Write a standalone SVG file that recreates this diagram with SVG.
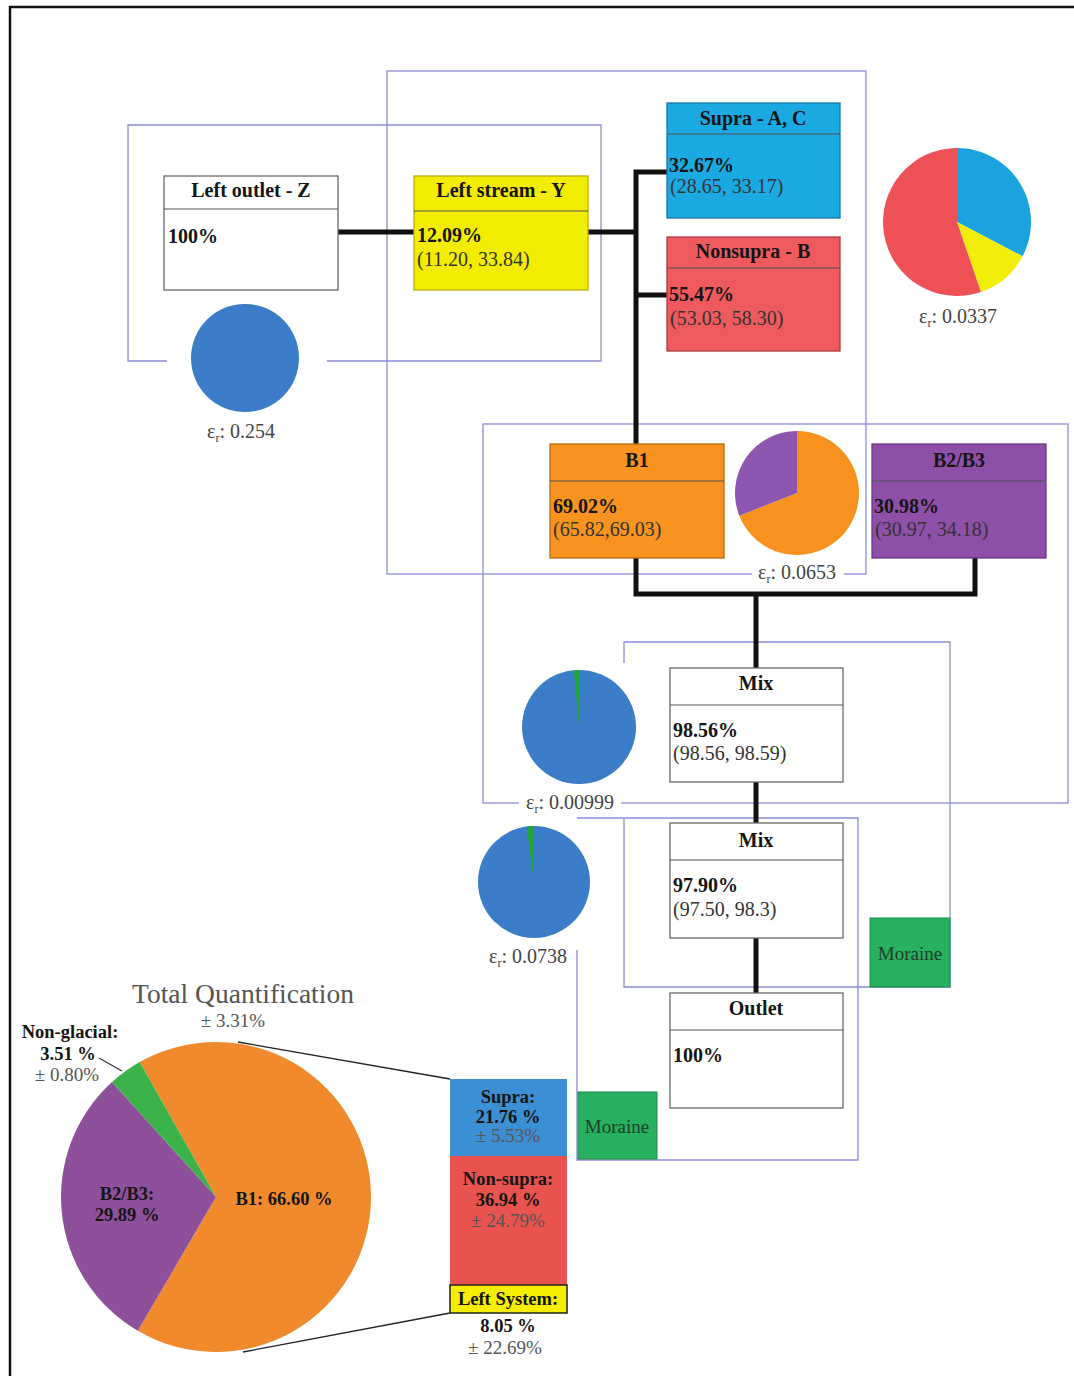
<svg xmlns="http://www.w3.org/2000/svg" width="1074" height="1376" viewBox="0 0 1074 1376">
<style>
.frame{fill:none;stroke:#8c8cd9;stroke-width:1.3}
.conn{stroke:#111;stroke-width:5;fill:none}
.box{stroke:#6a6a6a;stroke-width:1.3}
.div{stroke:#555;stroke-width:1.2}
.t{font-family:"Liberation Serif",serif;font-size:20px;fill:#151515}
.title{font-weight:bold;text-anchor:middle}
.val{font-weight:bold}
.rng{fill:#333}
.eps{font-family:"Liberation Serif",serif;font-size:20px;fill:#444;text-anchor:middle}
.lbl{font-family:"Liberation Serif",serif;font-size:18.5px;font-weight:bold;fill:#151515;text-anchor:middle}
.pm{font-family:"Liberation Serif",serif;font-size:19px;fill:#555;text-anchor:middle}
.mor{font-family:"Liberation Serif",serif;font-size:19px;fill:#1e3d2a;text-anchor:middle}
</style>
<rect width="1074" height="1376" fill="#fff"/>
<path d="M10,1376 V7 H1074" fill="none" stroke="#111" stroke-width="2.5"/>

<g id="frames">
  <path class="frame" d="M167,361 H128 V125 H601 V361 H327"/>
  <rect class="frame" x="387" y="71" width="479" height="503"/>
  <rect class="frame" x="483" y="424" width="585" height="379"/>
  <path class="frame" d="M624,663 V642 H950 V987 H624 V819"/>
  <path class="frame" d="M577,950 V1160 H858 V818 H577"/>
</g>

<g id="connectors">
  <line class="conn" x1="338" y1="232" x2="414" y2="232"/>
  <line class="conn" x1="588" y1="232" x2="636" y2="232"/>
  <path class="conn" d="M667,172 H636 V444"/>
  <line class="conn" x1="636" y1="295" x2="667" y2="295"/>
  <path class="conn" d="M636,558 V594 H975 V558"/>
  <line class="conn" x1="756" y1="594" x2="756" y2="668"/>
  <line class="conn" x1="756" y1="782" x2="756" y2="823"/>
  <line class="conn" x1="756" y1="938" x2="756" y2="993"/>
</g>

<g id="node-left-outlet">
  <rect class="box" x="164" y="176" width="174" height="114" fill="#fff"/>
  <line class="div" x1="164" y1="209" x2="338" y2="209"/>
  <text class="t title" x="251" y="197">Left outlet - Z</text>
  <text class="t val" x="168" y="243">100%</text>
</g>
<g id="node-left-stream">
  <rect x="414" y="176" width="174" height="114" fill="#f2ec00" stroke="#b8b000" stroke-width="1.3"/>
  <line class="div" x1="414" y1="211" x2="588" y2="211"/>
  <text class="t title" x="501" y="197">Left stream - Y</text>
  <text class="t val" x="417" y="242">12.09%</text>
  <text class="t rng" x="417" y="266">(11.20, 33.84)</text>
</g>
<g id="node-supra">
  <rect x="667" y="103" width="173" height="115" fill="#1ba9e1" stroke="#1478a8" stroke-width="1.3"/>
  <line class="div" x1="667" y1="134" x2="840" y2="134" stroke="#124a6a"/>
  <text class="t title" x="753" y="125">Supra - A, C</text>
  <text class="t val" x="669" y="172">32.67%</text>
  <text class="t rng" x="670" y="193">(28.65, 33.17)</text>
</g>
<g id="node-nonsupra">
  <rect x="667" y="237" width="173" height="114" fill="#ef5a5e" stroke="#a83a3e" stroke-width="1.3"/>
  <line class="div" x1="667" y1="268" x2="840" y2="268" stroke="#7a2a2a"/>
  <text class="t title" x="753" y="258">Nonsupra - B</text>
  <text class="t val" x="669" y="301">55.47%</text>
  <text class="t rng" x="670" y="325">(53.03, 58.30)</text>
</g>
<g id="node-b1">
  <rect x="550" y="444" width="174" height="114" fill="#f7931e" stroke="#b86a10" stroke-width="1.3"/>
  <line class="div" x1="550" y1="481" x2="724" y2="481" stroke="#6a3a08"/>
  <text class="t title" x="637" y="467">B1</text>
  <text class="t val" x="553" y="513">69.02%</text>
  <text class="t rng" x="553" y="536">(65.82,69.03)</text>
</g>
<g id="node-b2b3">
  <rect x="872" y="444" width="174" height="114" fill="#8e4fa8" stroke="#6a3a80" stroke-width="1.3"/>
  <line class="div" x1="872" y1="481" x2="1046" y2="481" stroke="#7a4592"/>
  <text class="t title" x="959" y="467">B2/B3</text>
  <text class="t val" x="874" y="513">30.98%</text>
  <text class="t rng" x="875" y="536">(30.97, 34.18)</text>
</g>
<g id="node-mix1">
  <rect class="box" x="670" y="668" width="173" height="114" fill="#fff"/>
  <line class="div" x1="670" y1="705" x2="843" y2="705"/>
  <text class="t title" x="756" y="690">Mix</text>
  <text class="t val" x="673" y="737">98.56%</text>
  <text class="t rng" x="673" y="760">(98.56, 98.59)</text>
</g>
<g id="node-mix2">
  <rect class="box" x="670" y="823" width="173" height="115" fill="#fff"/>
  <line class="div" x1="670" y1="860" x2="843" y2="860"/>
  <text class="t title" x="756" y="847">Mix</text>
  <text class="t val" x="673" y="892">97.90%</text>
  <text class="t rng" x="673" y="916">(97.50, 98.3)</text>
</g>
<g id="node-outlet">
  <rect class="box" x="670" y="993" width="173" height="115" fill="#fff"/>
  <line class="div" x1="670" y1="1030" x2="843" y2="1030"/>
  <text class="t title" x="756" y="1015">Outlet</text>
  <text class="t val" x="673" y="1062">100%</text>
</g>
<g id="node-moraine-1">
  <rect x="870" y="918" width="80" height="69" fill="#27b05f" stroke="#1d8a48" stroke-width="1"/>
  <text class="mor" x="910" y="960">Moraine</text>
</g>
<g id="node-moraine-2">
  <rect x="578" y="1092" width="79" height="67" fill="#27b05f" stroke="#1d8a48" stroke-width="1"/>
  <text class="mor" x="617" y="1133">Moraine</text>
</g>

<g id="pie-left-outlet">
  <circle cx="245" cy="358" r="54" fill="#3b7dc8"/>
  <text class="eps" x="241" y="438">ε<tspan font-size="12" dy="4">r</tspan><tspan dy="-4">: 0.254</tspan></text>
</g>
<g id="pie-top">
  <path d="M957,222 L957,148 A74,74 0 0 1 1022.58,256.28 Z" fill="#1aa3df"/>
  <path d="M957,222 L1022.58,256.28 A74,74 0 0 1 980.97,292.01 Z" fill="#f2ee0a"/>
  <path d="M957,222 L980.97,292.01 A74,74 0 1 1 957,148 Z" fill="#ee5257"/>
  <text class="eps" x="958" y="323">ε<tspan font-size="12" dy="4">r</tspan><tspan dy="-4">: 0.0337</tspan></text>
</g>
<g id="pie-b">
  <path d="M797,493 L797,431 A62,62 0 1 1 739.33,515.75 Z" fill="#f7921e"/>
  <path d="M797,493 L739.33,515.75 A62,62 0 0 1 797,431 Z" fill="#8d56b0"/>
  <rect x="752" y="562" width="92" height="22" fill="#fff"/>
  <text class="eps" x="797" y="579">ε<tspan font-size="12" dy="4">r</tspan><tspan dy="-4">: 0.0653</tspan></text>
</g>
<g id="pie-mix1">
  <circle cx="579" cy="727" r="57" fill="#3b7dc8"/>
  <path d="M579,727 L573.83,670.23 A57,57 0 0 1 579,670 Z" fill="#1fa53a"/>
  <rect x="519" y="792" width="102" height="22" fill="#fff"/>
  <text class="eps" x="570" y="809">ε<tspan font-size="12" dy="4">r</tspan><tspan dy="-4">: 0.00999</tspan></text>
</g>
<g id="pie-mix2">
  <circle cx="534" cy="882" r="56" fill="#3b7dc8"/>
  <path d="M534,882 L526.63,826.49 A56,56 0 0 1 534,826 Z" fill="#1fa53a"/>
  <text class="eps" x="528" y="963">ε<tspan font-size="12" dy="4">r</tspan><tspan dy="-4">: 0.0738</tspan></text>
</g>

<g id="total-quantification">
  <text x="243" y="1003" font-family="Liberation Serif, serif" font-size="27.5" fill="#555" text-anchor="middle">Total Quantification</text>
  <text class="pm" x="233" y="1027">± 3.31%</text>
  <path d="M216,1197 L139.68,1062.09 A155,155 0 1 1 137.88,1330.87 Z" fill="#f08a2c"/>
  <path d="M216,1197 L137.88,1330.87 A155,155 0 0 1 112.0,1082.07 Z" fill="#8f509b"/>
  <path d="M216,1197 L112.0,1082.07 A155,155 0 0 1 139.68,1062.09 Z" fill="#3bb24a"/>
  <line x1="99" y1="1058" x2="122" y2="1071" stroke="#333" stroke-width="1.2"/>
  <text class="lbl" x="70" y="1038">Non-glacial:</text>
  <text class="lbl" x="68" y="1060">3.51 %</text>
  <text class="pm" x="67" y="1081">± 0.80%</text>
  <text class="lbl" x="127" y="1200" fill="#2a1a3a">B2/B3:</text>
  <text class="lbl" x="127" y="1221" fill="#2a1a3a">29.89 %</text>
  <text class="lbl" x="284" y="1205">B1: 66.60 %</text>
  <line x1="238" y1="1042" x2="450" y2="1079" stroke="#222" stroke-width="1.3"/>
  <line x1="243" y1="1352" x2="450" y2="1313" stroke="#222" stroke-width="1.3"/>
</g>
<g id="bar-left-system">
  <rect x="450" y="1079" width="117" height="77" fill="#3c8fd2"/>
  <rect x="450" y="1156" width="117" height="129" fill="#e8524f"/>
  <rect x="450" y="1285" width="117" height="28" fill="#f5ee00" stroke="#222" stroke-width="1.5"/>
  <text class="lbl" x="508" y="1103">Supra:</text>
  <text class="lbl" x="508" y="1123">21.76 %</text>
  <text class="pm" x="508" y="1142" fill="#444">± 5.53%</text>
  <text class="lbl" x="508" y="1185">Non-supra:</text>
  <text class="lbl" x="508" y="1206">36.94 %</text>
  <text class="pm" x="508" y="1227" fill="#444">± 24.79%</text>
  <text class="lbl" x="508" y="1305">Left System:</text>
  <text class="lbl" x="508" y="1332">8.05 %</text>
  <text class="pm" x="505" y="1354">± 22.69%</text>
</g>
</svg>
